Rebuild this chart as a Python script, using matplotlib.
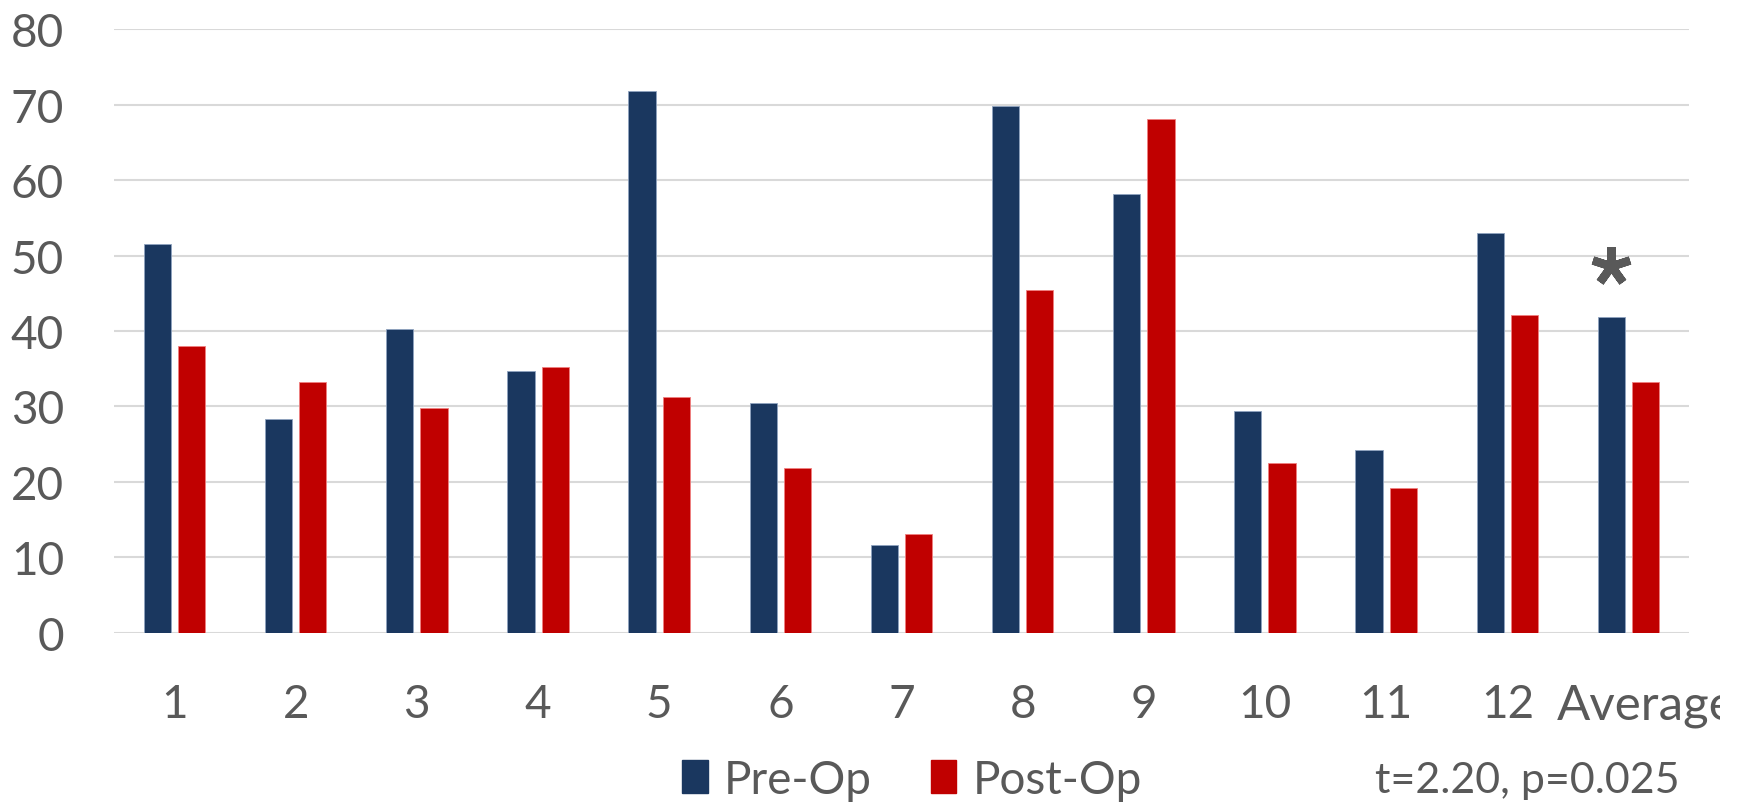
import numpy as np
import matplotlib
matplotlib.use("Agg")
import matplotlib.pyplot as plt
from matplotlib.markers import MarkerStyle
from matplotlib.patches import Patch
from matplotlib.transforms import Bbox, ScaledTranslation, TransformedBbox


# ----------------------------------
# data
# ----------------------------------

categories = ["1", "2", "3", "4", "5", "6", "7", "8", "9", "10", "11", "12", "Average"]

pre_op = [51.5, 28.3, 40.2, 34.7, 71.8, 30.4, 11.6, 69.8, 58.2, 29.4, 24.2, 53.0, 41.9]
post_op = [38.0, 33.3, 29.8, 35.2, 31.3, 21.9, 13.1, 45.4, 68.1, 22.5, 19.2, 42.1, 33.2]

series_names = ["Pre-Op", "Post-Op"]
stats_text = "t=2.20, p=0.025"

y_ticks = [0, 10, 20, 30, 40, 50, 60, 70, 80]

# ----------------------------------
# style
# ----------------------------------

navy = "#1A375F"
red = "#C00000"
text_gray = "#595959"
grid_gray = "#D9D9D9"

plt.rcParams["font.family"] = ["Lato", "DejaVu Sans"]

# ----------------------------------
# figure
# ----------------------------------

fig = plt.figure(
    figsize=(17.4, 8.03),
    dpi=100
)

ax = fig.add_axes([0.0655, 0.2105, 0.9052, 0.7521])

x = np.arange(len(categories))
bar_w = 0.225
offset = 0.1415

ax.bar(
    x - offset, pre_op, width=bar_w,
    color=navy, edgecolor="#8FA3BF", linewidth=0.6, zorder=3
)
ax.bar(
    x + offset, post_op, width=bar_w,
    color=red, edgecolor="#F08080", linewidth=0.6, zorder=3
)

# significance star over the average pair
star = MarkerStyle((5, 2, 0), capstyle="round")
ax.plot(
    x[-1] - offset, pre_op[-1] + 6.7,
    marker=star, markersize=28, markeredgewidth=6,
    color=text_gray, linestyle="none", zorder=4
)

# ----------------------------------
# axes
# ----------------------------------

ax.set_xlim(-0.5, len(categories) - 0.5)
ax.set_ylim(0, 80)

ax.set_yticks(y_ticks)
ax.set_xticks(x)
ax.set_xticklabels(categories)

ax.tick_params(axis="both", length=0, labelsize=33, labelcolor=text_gray)
ax.tick_params(axis="y", pad=36)
ax.tick_params(axis="x", pad=36)

ax.yaxis.grid(True, color=grid_gray, linewidth=1.5, zorder=0)
ax.set_axisbelow(True)

for side in ["top", "right", "left", "bottom"]:
    ax.spines[side].set_visible(False)

# last label runs off to the right and gets cut at the chart edge
last = ax.get_xticklabels()[-1]
last.set_fontsize(35.5)
last.set_horizontalalignment("left")
last.set_transform(last.get_transform() + ScaledTranslation(-0.72, 0, fig.dpi_scale_trans))
last.set_clip_box(TransformedBbox(Bbox([[0, 0], [1720 / 1740, 1]]), fig.transFigure))
last.set_clip_on(True)

# ----------------------------------
# legend + stats
# ----------------------------------

handles = [
    Patch(facecolor=navy, edgecolor=navy),
    Patch(facecolor=red, edgecolor=red),
]

fig.legend(
    handles, series_names,
    loc="center left",
    bbox_to_anchor=(0.379, 0.028),
    ncol=2,
    frameon=False,
    fontsize=33,
    labelcolor=text_gray,
    handlelength=0.55,
    handleheight=0.75,
    handletextpad=0.35,
    columnspacing=1.3,
    borderpad=0,
)

fig.text(
    0.79, 0.028, stats_text,
    ha="left", va="center",
    fontsize=31, color=text_gray
)

fig.savefig("out.png", dpi=100)
